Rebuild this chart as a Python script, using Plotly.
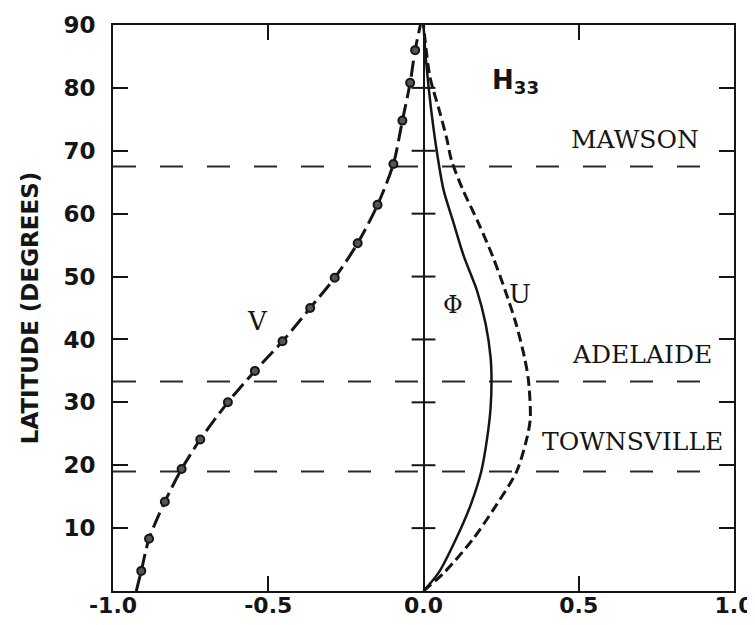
import plotly.graph_objects as go

# ---------------- data ----------------
# V component (dash-dot curve with dots); first/last entries are the curve ends
v_lat = [0.0, 3.2, 8.3, 14.2, 19.4, 24.1, 30.0, 35.0, 39.7, 45.0, 49.8, 55.3,
         61.4, 67.9, 74.8, 80.8, 86.0, 90.0]
v_val = [-0.925, -0.909, -0.884, -0.833, -0.779, -0.719, -0.630, -0.543, -0.454,
         -0.365, -0.286, -0.212, -0.148, -0.097, -0.068, -0.043, -0.027, -0.010]

# Phi component (solid curve)
phi_lat = [0.0, 3.0, 8.3, 13.7, 19.0, 24.3, 29.1, 33.5, 37.2, 42.5, 47.8, 53.2,
           58.5, 63.7, 68.6, 76.4, 84.4, 90.0]
phi_val = [0.0, 0.050, 0.105, 0.152, 0.186, 0.205, 0.216, 0.219, 0.216, 0.200,
           0.172, 0.130, 0.097, 0.065, 0.047, 0.025, 0.008, 0.0]

# U component (dashed curve)
u_lat = [0.0, 3.0, 8.3, 13.7, 19.0, 24.3, 27.5, 33.5, 37.2, 42.5, 47.8, 53.2,
         58.5, 63.9, 68.5, 71.9, 76.4, 81.7, 90.0]
u_val = [0.0, 0.068, 0.160, 0.235, 0.300, 0.333, 0.344, 0.338, 0.325, 0.298,
         0.263, 0.223, 0.177, 0.126, 0.090, 0.075, 0.051, 0.021, 0.0]

# Stations (horizontal dashed lines)
stations = ["MAWSON", "ADELAIDE", "TOWNSVILLE"]
station_lat = [67.5, 33.3, 19.0]
station_x_start = -1.0
station_x_end = 0.94

# Axis ticks
x_tickvals = [-1.0, -0.5, 0.0, 0.5, 1.0]
x_ticktext = ["-1.0", "-0.5", "0.0", "0.5", "1.0"]
y_tickvals = [10, 20, 30, 40, 50, 60, 70, 80, 90]
zero_line_ticks = [10, 20, 30, 40, 50, 60, 70, 80]

INK = "#151515"

fig = go.Figure()

# station lines
for name, lat in zip(stations, station_lat):
    fig.add_trace(go.Scatter(
        x=[station_x_start, station_x_end], y=[lat, lat], mode="lines",
        line=dict(color="#2a2a2a", width=2, dash="23px,24px"),
        hoverinfo="skip", name=name))

# cross ticks on the x = 0 line
fig.add_trace(go.Scatter(
    x=[0.0] * len(zero_line_ticks), y=zero_line_ticks, mode="markers",
    marker=dict(symbol="line-ew", size=17, line=dict(color=INK, width=2)),
    hoverinfo="skip"))

# Phi
fig.add_trace(go.Scatter(
    x=phi_val, y=phi_lat, mode="lines",
    line=dict(color=INK, width=2.5, shape="spline", smoothing=0.8), name="Phi"))

# U
fig.add_trace(go.Scatter(
    x=u_val, y=u_lat, mode="lines",
    line=dict(color=INK, width=3, dash="10px,5px", shape="spline", smoothing=0.8),
    name="U"))

# V line
fig.add_trace(go.Scatter(
    x=v_val, y=v_lat, mode="lines",
    line=dict(color=INK, width=3, dash="16px,6px", shape="spline", smoothing=0.8),
    name="V"))
# V dots
fig.add_trace(go.Scatter(
    x=v_val[1:-1], y=v_lat[1:-1], mode="markers",
    marker=dict(symbol="circle", size=8, color="#555555",
                line=dict(color=INK, width=2)),
    name="V points"))

serif = "DejaVu Serif"
sans = "DejaVu Sans"

annotations = [
    dict(x=-0.535, y=43.0, text="V", font=dict(family=serif, size=26, color=INK)),
    dict(x=0.095, y=45.4, text="Φ", font=dict(family=serif, size=24, color=INK)),
    dict(x=0.31, y=47.3, text="U", font=dict(family=serif, size=26, color=INK)),
    dict(x=0.295, y=81.0, text="H<sub>33</sub>",
         font=dict(family=sans, size=26, color=INK, weight="bold")),
]
station_label_x = [0.895, 0.935, 0.97]
station_label_y = [71.8, 37.6, 23.8]
for name, lx, ly in zip(stations, station_label_x, station_label_y):
    annotations.append(dict(x=lx, y=ly, text=name, xanchor="right",
                            font=dict(family=serif, size=25, color=INK)))
for a in annotations:
    a.setdefault("xanchor", "center")
    a["yanchor"] = "middle"
    a["showarrow"] = False
    a["xref"] = "x"
    a["yref"] = "y"

fig.update_layout(
    width=755, height=625,
    margin=dict(l=105, r=29, t=17, b=42, autoexpand=False),
    paper_bgcolor="white", plot_bgcolor="white",
    showlegend=False,
    annotations=annotations,
    xaxis=dict(
        range=[-1.0, 1.0], tickvals=x_tickvals, ticktext=x_ticktext,
        ticks="inside", ticklen=15, tickwidth=2, tickcolor=INK,
        showline=True, linewidth=2, linecolor=INK, mirror="ticks",
        showgrid=False, zeroline=True, zerolinecolor=INK, zerolinewidth=2,
        tickfont=dict(family=sans, size=22, color=INK, weight="bold"),
        ticklabelstandoff=-6, automargin=False,
    ),
    yaxis=dict(
        range=[0, 90], tickvals=y_tickvals,
        ticks="inside", ticklen=15, tickwidth=2, tickcolor=INK,
        showline=True, linewidth=2, linecolor=INK, mirror="ticks",
        showgrid=False, zeroline=False,
        tickfont=dict(family=sans, size=23, color=INK, weight="bold"),
        ticklabelstandoff=11, automargin=False,
        title=dict(text="LATITUDE (DEGREES)", standoff=18,
                   font=dict(family=sans, size=23, color=INK, weight="bold")),
    ),
)

fig.write_html("out.html")
